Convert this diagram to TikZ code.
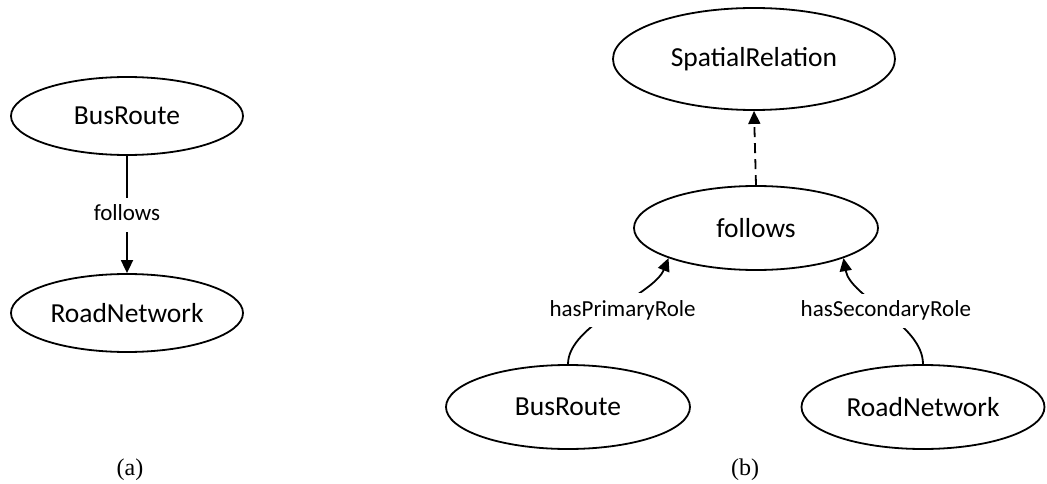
\documentclass[tikz,border=0pt]{standalone}
\usepackage{fontspec}
\setmainfont{Carlito}
\newfontfamily\capfont{Liberation Serif}
\usetikzlibrary{shapes.geometric,arrows.meta}

\begin{document}
\begin{tikzpicture}[x=1pt,y=1pt,
  concept/.style={ellipse, draw, line width=1.8pt, inner sep=0pt,
    minimum width=232pt, minimum height=80pt,
    font=\fontsize{27.5}{33}\selectfont},
  rel/.style={line width=1.8pt, -{Triangle[length=13pt,width=12pt]}},
  lbl/.style={fill=white, inner xsep=3pt, inner ysep=6pt,
    text height=17pt, text depth=5pt,
    font=\fontsize{23}{27}\selectfont},
  caption/.style={font=\capfont\fontsize{24}{28}\selectfont}]
\useasboundingbox (0,0) rectangle (1047,-484);

% (a) direct relation between two concepts
\node[concept, minimum height=78pt] (br1) at (127,-116) {BusRoute};
\node[concept, minimum height=78pt] (rn1) at (127,-313) {RoadNetwork};
\draw[rel] (br1.south) -- node[lbl] (lf) {follows} (rn1.north);
\node[caption] (capa) at (130,-470) {(a)};

% (b) relation reified as a concept with roles
\node[concept, minimum width=282pt, minimum height=102pt] (sr) at (754,-59) {SpatialRelation};
\node[concept, minimum width=244pt, minimum height=84pt] (fw) at (756,-228) {follows};
\node[concept, minimum width=244pt, minimum height=84pt] (br2) at (568,-407) {BusRoute};
\node[concept, minimum width=243pt, minimum height=84pt] (rn2) at (923,-407) {RoadNetwork};

\draw[rel, dash pattern=on 10pt off 6pt] (fw.north) -- (sr.south);
\draw[rel] (br2.north) .. controls +(90:40) and +(-112:40) .. (fw.-161)
  node[lbl, pos=.5, xshift=10pt] (pr) {hasPrimaryRole};
\draw[rel] (rn2.north) .. controls +(90:40) and +(-80:40) .. (fw.-19)
  node[lbl, pos=.5] (sc) {hasSecondaryRole};
\node[caption] (capb) at (745,-470) {(b)};
\end{tikzpicture}
\end{document}
